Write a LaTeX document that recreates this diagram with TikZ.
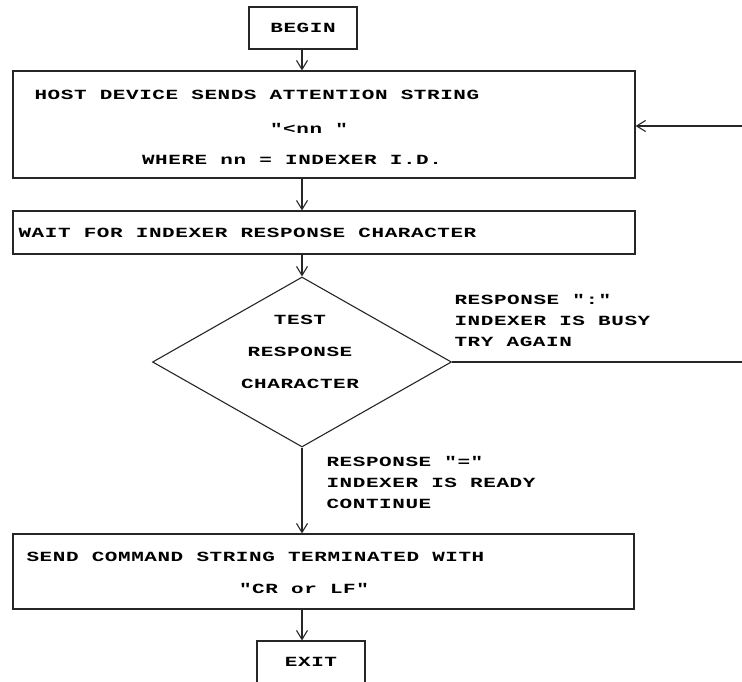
\documentclass[tikz,border=0pt]{standalone}
\usepackage{fontspec}
\setmonofont[FakeStretch=1.5,LetterSpace=4]{Liberation Mono}
\usepackage{tikz}
\usetikzlibrary{arrows.meta,shapes.geometric}

\begin{document}
\begin{tikzpicture}[x=1pt,y=-1pt,->,>={Straight Barb[length=9pt,width=11pt]},line width=1.1pt,draw=black!85,
    main node/.style={draw,rectangle,inner sep=0pt,font=\ttfamily\bfseries\fontsize{14}{17}\selectfont},
    test node/.style={draw,diamond,inner sep=0pt,minimum width=299pt,minimum height=170pt},
    label/.style={inner sep=0pt,font=\ttfamily\bfseries\fontsize{14}{17}\selectfont}]
    \useasboundingbox (0,0) rectangle (742,681);
    \clip (0,0) rectangle (742,681);
    \coordinate (axis) at (302,0);
    \node[main node,minimum width=108pt,minimum height=42pt] (begin) at (303,28) {BEGIN};
    \node[main node,minimum width=622pt,minimum height=107pt] (host) at (324,124.5) {};
    \node[main node,minimum width=622pt,minimum height=43pt] (wait) at (324,232.5) {};
    \node[test node] (test) at (302,362) {};
    \node[main node,minimum width=621pt,minimum height=75pt] (send) at (323.5,571.5) {};
    \node[main node,minimum width=108pt,minimum height=42pt] (exit) at (311,662) {EXIT};
    % texts
    \node[label,anchor=west] (h1) at (34,95) {HOST DEVICE SENDS ATTENTION STRING};
    \node[label] (h2) at (309,128) {"<nn "};
    \node[label] (h3) at (292,160) {WHERE nn = INDEXER I.D.};
    \node[label,anchor=west] (w1) at (18,233) {WAIT FOR INDEXER RESPONSE CHARACTER};
    \node[label,align=center] (t1) at (300,352) {TEST\\[15pt]RESPONSE\\[15pt]CHARACTER};
    \node[label,anchor=west,align=left] (busy) at (454,320) {RESPONSE ":"\\[4pt]INDEXER IS BUSY\\[4pt]TRY AGAIN};
    \node[label,anchor=west,align=left] (ready) at (326,482) {RESPONSE "="\\[4pt]INDEXER IS READY\\[4pt]CONTINUE};
    \node[label,anchor=west] (s1) at (26,557) {SEND COMMAND STRING TERMINATED WITH};
    \node[label] (s2) at (304,588) {"CR or LF"};
    % connectors
    \coordinate (busyend) at (742,362);
    \coordinate (retry) at (742,126);
    \draw (begin.south -| axis) -- (host.north -| axis);
    \draw (host.south -| axis) -- (wait.north -| axis);
    \draw (wait.south -| axis) -- (test.north);
    \draw (test.south) -- (send.north -| axis);
    \draw (send.south -| axis) -- (exit.north -| axis);
    \draw[-] (test.east) -- (busyend);
    \draw (retry) -- (retry -| host.east);
\end{tikzpicture}
\end{document}
